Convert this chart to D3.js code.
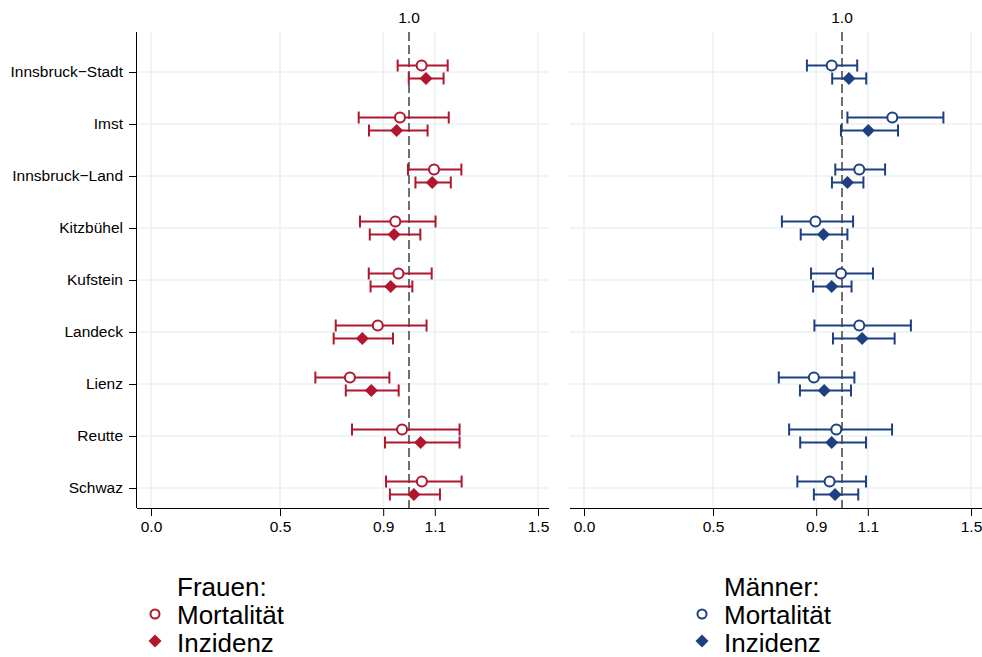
<!DOCTYPE html>
<html>
<head>
<meta charset="UTF-8">
<style>
body { margin: 0; background: #fff; }
svg { font-family: "Liberation Sans", Arial, sans-serif; }
.grid line { stroke: #eaf1f3; stroke-width: 1.5; }
.axis path, .axis line { stroke: #000; }
.axis text { font-size: 15.5px; fill: #000; font-family: "Liberation Sans", Arial, sans-serif; }
</style>
</head>
<body>
<svg width="982" height="657"></svg>
<script src="https://d3js.org/d3.v7.min.js"></script>
<script>
var districts = ["Innsbruck\u2212Stadt", "Imst", "Innsbruck\u2212Land", "Kitzbühel", "Kufstein", "Landeck", "Lienz", "Reutte", "Schwaz"];
var xTicks = [0.0, 0.5, 0.9, 1.1, 1.5];

// Frauen
var wMort = [1.049, 0.965, 1.097, 0.947, 0.959, 0.879, 0.771, 0.973, 1.050];
var wMortLo = [0.956, 0.805, 0.996, 0.810, 0.844, 0.716, 0.637, 0.779, 0.911];
var wMortHi = [1.150, 1.154, 1.203, 1.103, 1.088, 1.068, 0.924, 1.196, 1.204];
var wInz = [1.066, 0.952, 1.090, 0.942, 0.929, 0.819, 0.854, 1.045, 1.019];
var wInzLo = [0.999, 0.845, 1.025, 0.848, 0.851, 0.708, 0.755, 0.907, 0.926];
var wInzHi = [1.134, 1.072, 1.162, 1.044, 1.013, 0.938, 0.960, 1.196, 1.120];

// Männer
var mMort = [0.960, 1.195, 1.067, 0.897, 0.996, 1.067, 0.891, 0.978, 0.952];
var mMortLo = [0.864, 1.021, 0.974, 0.767, 0.880, 0.893, 0.755, 0.795, 0.827];
var mMortHi = [1.059, 1.393, 1.167, 1.043, 1.120, 1.267, 1.048, 1.194, 1.093];
var mInz = [1.027, 1.102, 1.021, 0.928, 0.960, 1.078, 0.931, 0.960, 0.973];
var mInzLo = [0.962, 0.996, 0.961, 0.840, 0.888, 0.965, 0.837, 0.838, 0.891];
var mInzHi = [1.094, 1.217, 1.083, 1.021, 1.037, 1.204, 1.035, 1.093, 1.063];

var red = "#b0172e", blue = "#1e3f80";
var svg = d3.select("svg");

var y = d3.scalePoint().domain(districts).range([72, 488]);

var panels = [
    { x0: 137, x1: 549, zero: 151, title: "Frauen:", color: red, yaxis: true,
      mort: wMort, mortLo: wMortLo, mortHi: wMortHi, inz: wInz, inzLo: wInzLo, inzHi: wInzHi, legX: 155 },
    { x0: 570, x1: 982, zero: 584, title: "Männer:", color: blue, yaxis: false,
      mort: mMort, mortLo: mMortLo, mortHi: mMortHi, inz: mInz, inzLo: mInzLo, inzHi: mInzHi, legX: 702 }
];

var plotTop = 32, plotBottom = 508;

// square diamond (rotated square), half-diagonal r
function diamondPath(r) {
    return "M0," + (-r) + "L" + r + ",0L0," + r + "L" + (-r) + ",0Z";
}

panels.forEach(function(p) {
    var x = d3.scaleLinear().domain([0, 1.5]).range([p.zero, p.zero + 387]);
    var g = svg.append("g");

    // grid
    var grid = g.append("g").attr("class", "grid");
    grid.selectAll(".v").data(xTicks).enter().append("line")
        .attr("x1", d => x(d)).attr("x2", d => x(d))
        .attr("y1", plotTop).attr("y2", plotBottom);
    grid.selectAll(".h").data(districts).enter().append("line")
        .attr("x1", p.x0).attr("x2", p.x1)
        .attr("y1", d => y(d)).attr("y2", d => y(d));

    // reference line at 1.0
    g.append("line")
        .attr("x1", x(1)).attr("x2", x(1))
        .attr("y1", plotTop).attr("y2", plotBottom)
        .attr("stroke", "#707070").attr("stroke-width", 2)
        .attr("stroke-dasharray", "9,4");

    g.append("text").attr("x", x(1)).attr("y", 23)
        .attr("text-anchor", "middle").attr("font-size", 15.5).text("1.0");

    // bottom axis
    var xa = g.append("g").attr("class", "axis")
        .attr("transform", "translate(0," + plotBottom + ")")
        .call(d3.axisBottom(x).tickValues(xTicks).tickFormat(d3.format(".1f")).tickSize(8).tickSizeOuter(0));
    xa.select(".domain").attr("d", "M" + p.x0 + ",0.5H" + p.x1);
    xa.selectAll("text").attr("y", 13).attr("dy", "0.71em");

    if (p.yaxis) {
        var ya = g.append("g").attr("class", "axis")
            .attr("transform", "translate(" + p.x0 + ",0)")
            .call(d3.axisLeft(y).tickSize(8).tickSizeOuter(0));
        ya.select(".domain").attr("d", "M-0.5," + plotTop + "V" + plotBottom);
        ya.selectAll("text").attr("x", -14);
    }

    function drawSeries(est, lo, hi, dy, filled) {
        var s = g.append("g");
        districts.forEach(function(d, i) {
            var yy = y(d) + dy;
            s.append("line").attr("x1", x(lo[i])).attr("x2", x(hi[i]))
                .attr("y1", yy).attr("y2", yy)
                .attr("stroke", p.color).attr("stroke-width", 2);
            [lo[i], hi[i]].forEach(function(v) {
                s.append("line").attr("x1", x(v)).attr("x2", x(v))
                    .attr("y1", yy - 6).attr("y2", yy + 6)
                    .attr("stroke", p.color).attr("stroke-width", 2);
            });
            if (filled) {
                s.append("path").attr("d", diamondPath(6.5))
                    .attr("transform", "translate(" + x(est[i]) + "," + yy + ")")
                    .attr("fill", p.color);
            } else {
                s.append("circle").attr("cx", x(est[i])).attr("cy", yy).attr("r", 5)
                    .attr("fill", "#fff").attr("stroke", p.color).attr("stroke-width", 2);
            }
        });
    }
    drawSeries(p.mort, p.mortLo, p.mortHi, -6.5, false);
    drawSeries(p.inz, p.inzLo, p.inzHi, 6.5, true);

    // legend
    var leg = svg.append("g").attr("font-size", 26);
    leg.append("text").attr("x", p.legX + 22).attr("y", 596).text(p.title);
    leg.append("circle").attr("cx", p.legX).attr("cy", 614).attr("r", 4.5)
        .attr("fill", "#fff").attr("stroke", p.color).attr("stroke-width", 2);
    leg.append("text").attr("x", p.legX + 22).attr("y", 624).text("Mortalität");
    leg.append("path").attr("d", diamondPath(6.5))
        .attr("transform", "translate(" + p.legX + ",641)").attr("fill", p.color);
    leg.append("text").attr("x", p.legX + 22).attr("y", 652).text("Inzidenz");
});
</script>
</body>
</html>
